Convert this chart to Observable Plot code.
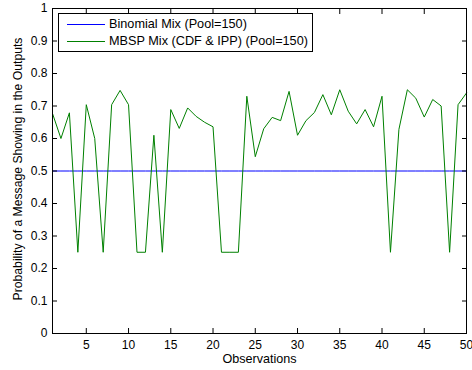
<!DOCTYPE html>
<html>
<head>
<meta charset="utf-8">
<script src="https://cdn.jsdelivr.net/npm/d3@7"></script>
<script src="https://cdn.jsdelivr.net/npm/@observablehq/plot@0.6"></script>
<style>
  body { margin: 0; background: #fff; }
  #chart { position: relative; width: 472px; height: 370px; font-family: "Liberation Sans", Arial, sans-serif; }
  #chart svg { display: block; }
  .legend { position: absolute; left: 58px; top: 13px; width: 255px; height: 39px; border: 1px solid #000;
            background: #fff; box-sizing: border-box; font-size: 12.7px; color: #000; }
  .legend .row { position: absolute; left: 0; height: 14px; line-height: 14px; white-space: nowrap; }
  .legend .swatch { position: absolute; left: 8px; top: 7px; width: 38px; height: 0; border-top: 1px solid; }
  .legend .label { position: absolute; left: 50px; top: 0; }
</style>
</head>
<body>
<div id="chart"></div>
<script>
// Observation index along the x axis
const observations = [1, 2, 3, 4, 5, 6, 7, 8, 9, 10, 11, 12, 13, 14, 15, 16, 17, 18, 19, 20,
  21, 22, 23, 24, 25, 26, 27, 28, 29, 30, 31, 32, 33, 34, 35, 36, 37, 38, 39, 40,
  41, 42, 43, 44, 45, 46, 47, 48, 49, 50];

// Binomial mix: probability per observation
const binomialMix = [0.5, 0.5, 0.5, 0.5, 0.5, 0.5, 0.5, 0.5, 0.5, 0.5, 0.5, 0.5, 0.5, 0.5, 0.5, 0.5, 0.5, 0.5, 0.5, 0.5,
  0.5, 0.5, 0.5, 0.5, 0.5, 0.5, 0.5, 0.5, 0.5, 0.5, 0.5, 0.5, 0.5, 0.5, 0.5, 0.5, 0.5, 0.5, 0.5, 0.5,
  0.5, 0.5, 0.5, 0.5, 0.5, 0.5, 0.5, 0.5, 0.5, 0.5];

// MBSP mix (CDF & IPP): probability per observation
const mbspMix = [0.677, 0.600, 0.679, 0.250, 0.704, 0.600, 0.250, 0.704, 0.748, 0.704,
  0.250, 0.250, 0.610, 0.250, 0.689, 0.631, 0.694, 0.668, 0.650, 0.636,
  0.250, 0.250, 0.250, 0.730, 0.544, 0.630, 0.665, 0.655, 0.745, 0.610,
  0.655, 0.680, 0.735, 0.673, 0.750, 0.684, 0.645, 0.689, 0.636, 0.730,
  0.250, 0.628, 0.750, 0.724, 0.666, 0.720, 0.700, 0.250, 0.704, 0.740];

const seriesNames = ["Binomial Mix (Pool=150)", "MBSP Mix (CDF & IPP) (Pool=150)"];
const seriesColors = ["#0000ff", "#008000"];

const xTicks = [5, 10, 15, 20, 25, 30, 35, 40, 45, 50];
const yTicks = [0, 0.1, 0.2, 0.3, 0.4, 0.5, 0.6, 0.7, 0.8, 0.9, 1];

const xTitle = "Observations";
const yTitle = "Probability of a Message Showing in the Outputs";

const rows = observations.map((o, i) => ({obs: o, binomial: binomialMix[i], mbsp: mbspMix[i]}));

const plot = Plot.plot({
  width: 472,
  height: 370,
  marginLeft: 52,
  marginRight: 6,
  marginTop: 8,
  marginBottom: 37,
  style: {fontFamily: "'Liberation Sans', Arial, sans-serif", fontSize: "12px", color: "#000", background: "#fff"},
  x: {domain: [1, 50]},
  y: {domain: [0, 1]},
  marks: [
    Plot.lineY(rows, {x: "obs", y: "binomial", stroke: seriesColors[0], strokeWidth: 1}),
    Plot.lineY(rows, {x: "obs", y: "mbsp", stroke: seriesColors[1], strokeWidth: 1}),
    // inward ticks on all four sides
    Plot.axisX(xTicks, {anchor: "bottom", tickSize: -5, text: null, label: null}),
    Plot.axisX(xTicks, {anchor: "top", tickSize: -5, text: null, label: null}),
    Plot.axisY(yTicks, {anchor: "left", tickSize: -5, text: null, label: null}),
    Plot.axisY(yTicks, {anchor: "right", tickSize: -5, text: null, label: null}),
    // tick labels
    Plot.axisX(xTicks, {anchor: "bottom", tickSize: 0, tickPadding: 7, label: null}),
    Plot.axisY(yTicks, {anchor: "left", tickSize: 0, tickPadding: 5, tickFormat: d => String(d), label: null}),
    // axis titles
    Plot.text([xTitle], {text: d => d, frameAnchor: "bottom", dy: 25.5, lineAnchor: "middle",
      textAnchor: "middle", fontSize: 12.6, fill: "#000"}),
    Plot.text([yTitle], {text: d => d, frameAnchor: "left", dx: -34, dy: -2, rotate: -90,
      textAnchor: "middle", lineAnchor: "middle", fontSize: 12.2, fill: "#000"}),
    Plot.frame({stroke: "#000", strokeWidth: 1})
  ]
});

const chart = document.getElementById("chart");
chart.appendChild(plot);

const legend = document.createElement("div");
legend.className = "legend";
seriesNames.forEach((name, i) => {
  const row = document.createElement("div");
  row.className = "row";
  row.style.top = (i === 0 ? 3 : 20) + "px";
  row.style.width = "100%";
  const sw = document.createElement("div");
  sw.className = "swatch";
  sw.style.borderTopColor = seriesColors[i];
  const lb = document.createElement("div");
  lb.className = "label";
  lb.textContent = name;
  row.appendChild(sw);
  row.appendChild(lb);
  legend.appendChild(row);
});
chart.appendChild(legend);
</script>
</body>
</html>
